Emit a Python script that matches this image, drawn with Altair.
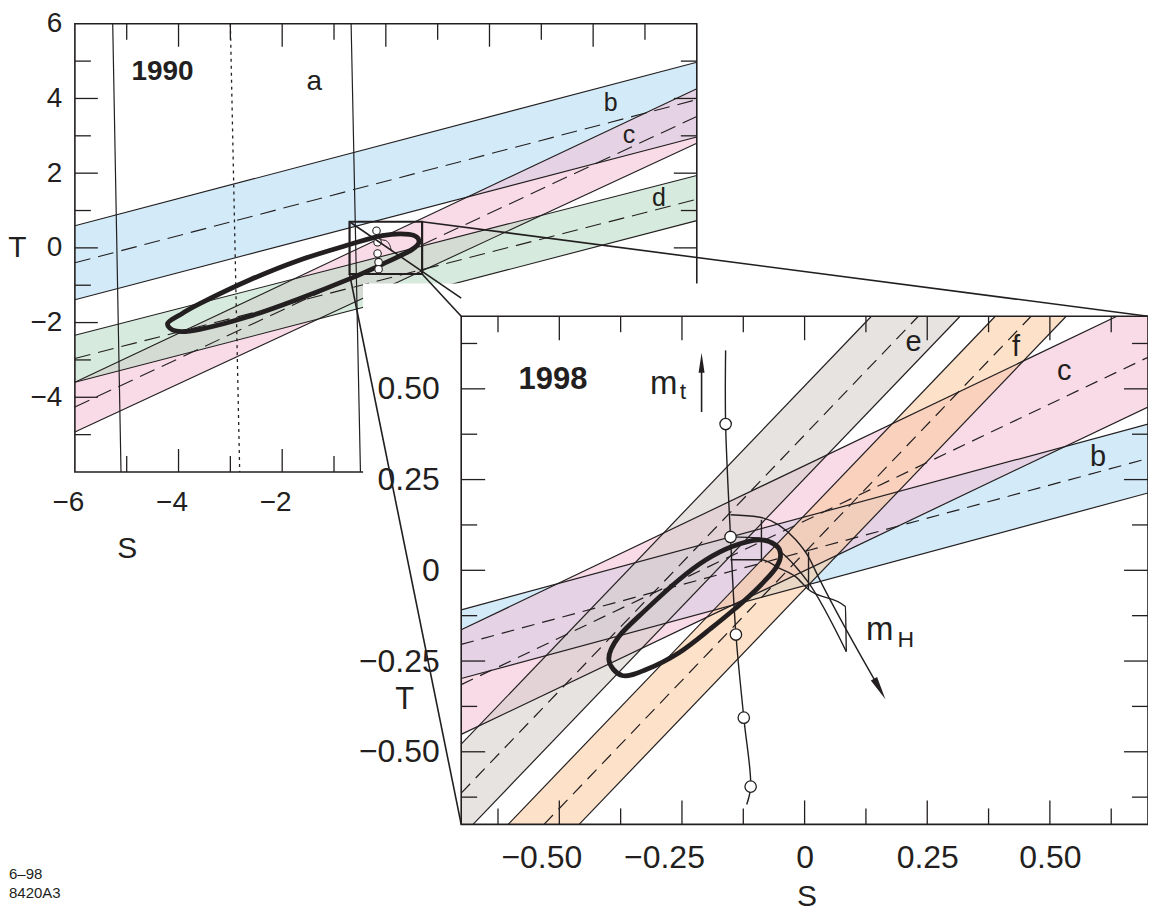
import altair as alt
import pandas as pd

FONT = "Liberation Sans"
INK = "#231f20"

# ---------------- values ----------------
# 1990 panel: every line is given by its T value at S = -6 (left) and S = +6 (right)
P1_BANDS = ["b", "c", "d"]
P1_UP_L = [0.59, -3.60, -2.34]
P1_UP_R = [4.97, 4.26, 1.94]
P1_MID_L = [-0.40, -4.26, -2.96]
P1_MID_R = [3.97, 3.52, 1.30]
P1_LO_L = [-1.39, -4.93, -3.60]
P1_LO_R = [2.97, 2.80, 0.73]
# constraint a: S where its three lines meet T = +6 and T = -6
A_TOP = [-5.27, -3.00, -0.67]
A_BOT = [-5.11, -2.82, -0.49]
A_KIND = ["edge", "centre", "edge"]
# 1990 fit contour
E1_S = [-4.21, -3.92, -3.59, -2.63, -1.67, -0.70, -0.07, 0.45, 0.64, 0.51, -0.07, -0.70, -1.67, -2.63, -3.59, -4.04]
E1_T = [-2.02, -1.75, -1.49, -0.86, -0.33, 0.09, 0.33, 0.36, 0.20, -0.04, -0.44, -0.83, -1.36, -1.83, -2.18, -2.23]
# m_t points and small m_H hook inside the zoom box of the 1990 panel
P1_MT_S = [-0.18, -0.16, -0.16, -0.14, -0.14]
P1_MT_T = [0.46, 0.15, -0.15, -0.38, -0.57]
P1_MH_S = [-0.13, -0.01, 0.07, 0.11]
P1_MH_T = [0.22, 0.20, 0.09, -0.09]
P1_TICKS = [-5, -4, -3, -2, -1, 0, 1, 2, 3, 4, 5]
P1_XLABELS = [-6, -4, -2]
P1_YLABELS = [-4, -2, 0, 2, 4, 6]
P1_TEXT = ["1990", "a", "b", "c", "d"]
P1_TEXT_S = [-4.31, -1.38, 4.34, 4.69, 5.27]
P1_TEXT_T = [4.71, 4.45, 3.89, 3.02, 1.33]

# 1998 panel: every line is given by its T value at S = -0.7 (left) and S = +0.7 (right)
P2_BANDS = ["b", "c", "e", "f"]
P2_UP_L = [-0.109, -0.164, -0.479, -0.835]
P2_UP_R = [0.403, 0.741, 1.495, 1.139]
P2_MID_L = [-0.204, -0.315, -0.614, -0.938]
P2_MID_R = [0.308, 0.587, 1.360, 1.036]
P2_LO_L = [-0.298, -0.452, -0.734, -1.039]
P2_LO_R = [0.213, 0.450, 1.240, 0.935]
E2_S = [-0.399, -0.379, -0.324, -0.256, -0.201, -0.149, -0.094, -0.059, -0.049, -0.057,
        -0.079, -0.114, -0.142, -0.189, -0.256, -0.324, -0.372]
E2_T = [-0.246, -0.183, -0.109, -0.026, 0.029, 0.065, 0.084, 0.070, 0.043, 0.010,
        -0.026, -0.073, -0.106, -0.158, -0.227, -0.274, -0.290]
MT_S = [-0.161, -0.161, -0.151, -0.140, -0.124, -0.110, -0.118]
MT_T = [0.606, 0.403, 0.092, -0.177, -0.406, -0.596, -0.645]
MT_MARKED = [1, 2, 3, 4, 5]
MT_ARROW_S = [-0.210]
MT_ARROW_T0 = [0.436]
MT_ARROW_T1 = [0.572]
MH1_S = [-0.151, -0.094, -0.053, -0.018, 0.008, 0.028, 0.155]
MH1_T = [0.153, 0.147, 0.125, 0.084, 0.037, -0.018, -0.331]
MH2_S = [-0.151, -0.094, -0.053, -0.018, 0.008, 0.085]
MH2_T = [0.092, 0.089, 0.056, 0.010, -0.034, -0.224]
MH3_S = [-0.151, -0.088, -0.053, -0.018, 0.008, 0.083, 0.085]
MH3_T = [0.029, 0.029, 0.007, -0.018, -0.053, -0.100, -0.224]
MH_STEP_S = [-0.088, 0.008]
MH_STEP_T0 = [0.139, 0.051]
MH_STEP_T1 = [0.023, -0.053]
MH_HEAD_S = [0.153]
MH_HEAD_T = [-0.327]
P2_TICKS = [-0.625, -0.5, -0.375, -0.25, -0.125, 0, 0.125, 0.25, 0.375, 0.5, 0.625]
P2_LABELS = [-0.5, -0.25, 0, 0.25, 0.5]
P2_TEXT = ["1998", "e", "f", "c", "b"]
P2_TEXT_S = [-0.513, 0.222, 0.431, 0.529, 0.598]
P2_TEXT_T = [0.523, 0.628, 0.615, 0.549, 0.312]
FOOTER = ["6–98", "8420A3"]

BAND_NAMES = ["b", "c", "d", "e", "f"]
BAND_COLORS = ["#afdbf2", "#f4bed3", "#b5dac1", "#d2ccc8", "#fbc89b"]
ARROW = "M0,-1L0.3,1L-0.3,1Z"

# ---------------- layout (pixels inside the plot area) ----------------
PAD_L, PAD_T, PAD_B, W, H = 67, 15, 89, 1075, 802
P1 = dict(s=(-6.0, 6.0), t=(-6.0, 6.0), x=(0, 623), y=(449, 0))
P2 = dict(s=(-0.7, 0.7), t=(-0.7, 0.7), x=(387, 1075), y=(802, 293))
ZOOM = (-0.7, 0.7)                      # extent of the 1998 panel, drawn as a box in 1990
COVER_S0, COVER_T1 = -0.9, 0.79         # white backing of the 1998 panel (its units)


def sx(p, field, axis=None):
    return alt.X(f"{field}:Q", axis=axis,
                 scale=alt.Scale(domain=list(p["s"]), range=list(p["x"]), nice=False, zero=False))


def sy(p, field, axis=None):
    return alt.Y(f"{field}:Q", axis=axis, stack=None,
                 scale=alt.Scale(domain=list(p["t"]), range=list(p["y"]), nice=False, zero=False))


def clip_seg(s1, t1, s2, t2, box):
    smin, smax, tmin, tmax = box
    ds, dt = s2 - s1, t2 - t1
    u0, u1 = 0.0, 1.0
    for pp, q in ((-ds, s1 - smin), (ds, smax - s1), (-dt, t1 - tmin), (dt, tmax - t1)):
        if pp == 0:
            if q < 0:
                return None
            continue
        r = q / pp
        if pp < 0:
            u0 = max(u0, r)
        else:
            u1 = min(u1, r)
    if u0 >= u1:
        return None
    return s1 + u0 * ds, t1 + u0 * dt, s1 + u1 * ds, t1 + u1 * dt


def band_tables(p, names, up_l, up_r, mid_l, mid_r, lo_l, lo_r):
    s0, s1 = p["s"]
    t0, t1 = p["t"]
    box = (s0, s1, t0, t1)
    area, edges, mids = [], [], []

    def at(ln, s):
        return ln[0] + (ln[1] - ln[0]) * (s - s0) / (s1 - s0)

    for k, name in enumerate(names):
        up, lo, mid = (up_l[k], up_r[k]), (lo_l[k], lo_r[k]), (mid_l[k], mid_r[k])
        cuts = {s0, s1}
        for ln in (up, lo):
            if ln[1] != ln[0]:
                for tb in (t0, t1):
                    s = s0 + (tb - ln[0]) * (s1 - s0) / (ln[1] - ln[0])
                    if s0 < s < s1:
                        cuts.add(s)
        for s in sorted(cuts):
            area.append({"band": name, "S": s,
                         "hi": min(max(at(up, s), t0), t1),
                         "lo": min(max(at(lo, s), t0), t1)})
        for tag, ln, rows in (("u", up, edges), ("l", lo, edges), ("m", mid, mids)):
            seg = clip_seg(s0, ln[0], s1, ln[1], box)
            if seg:
                rows.append({"id": name + tag, "i": 0, "S": seg[0], "T": seg[1]})
                rows.append({"id": name + tag, "i": 1, "S": seg[2], "T": seg[3]})
    return pd.DataFrame(area), pd.DataFrame(edges), pd.DataFrame(mids)


def fills(df, p):
    return alt.Chart(df).mark_area(opacity=0.55).encode(
        x=sx(p, "S"), y=sy(p, "hi"), y2=alt.Y2("lo"),
        color=alt.Color("band:N", legend=None, scale=alt.Scale(domain=BAND_NAMES, range=BAND_COLORS)))


def lines(df, p, width, dash=None, interp="linear"):
    kw = dict(color=INK, strokeWidth=width, interpolate=interp)
    if dash:
        kw["strokeDash"] = dash
    return alt.Chart(df).mark_line(**kw).encode(
        x=sx(p, "S"), y=sy(p, "T"), detail="id:N", order="i:Q")


def path_df(ss, ts, key="p"):
    return pd.DataFrame({"id": key, "i": list(range(len(ss))), "S": ss, "T": ts})


def box(p, s0, s1, t0, t1, axis_x=None, axis_y=None, **mk):
    df = pd.DataFrame({"S0": [s0], "S1": [s1], "T0": [t0], "T1": [t1]})
    return alt.Chart(df).mark_rect(**mk).encode(
        x=sx(p, "S0", axis_x), x2=alt.X2("S1"), y=sy(p, "T0", axis_y), y2=alt.Y2("T1"))


def texts(p, words, ss, ts, size, weight="normal"):
    df = pd.DataFrame({"txt": words, "S": ss, "T": ts})
    return alt.Chart(df).mark_text(font=FONT, fontSize=size, fontWeight=weight, color=INK,
                                   align="center", baseline="middle").encode(
        x=sx(p, "S"), y=sy(p, "T"), text="txt:N")


def tick_layers(p, vals, is_long, long_len, short_len):
    out = []
    s0, s1 = p["s"]
    t0, t1 = p["t"]
    for length, want in ((long_len, True), (short_len, False)):
        v = [x for x in vals if is_long(x) == want]
        n = len(v)
        for t_edge, off in ((t1, length / 2), (t0, -length / 2)):
            out.append(alt.Chart(pd.DataFrame({"S": v, "T": [t_edge] * n})).mark_tick(
                orient="vertical", size=length, thickness=1.3, color=INK, opacity=1, yOffset=off
            ).encode(x=sx(p, "S"), y=sy(p, "T")))
        for s_edge, off in ((s0, length / 2), (s1, -length / 2)):
            out.append(alt.Chart(pd.DataFrame({"S": [s_edge] * n, "T": v})).mark_tick(
                orient="horizontal", size=length, thickness=1.3, color=INK, opacity=1, xOffset=off
            ).encode(x=sx(p, "S"), y=sy(p, "T")))
    return out


def to_px(p, s, t):
    x = p["x"][0] + (s - p["s"][0]) / (p["s"][1] - p["s"][0]) * (p["x"][1] - p["x"][0])
    y = p["y"][0] + (t - p["t"][0]) / (p["t"][1] - p["t"][0]) * (p["y"][1] - p["y"][0])
    return x, y


def from_px(p, x, y):
    s = p["s"][0] + (x - p["x"][0]) / (p["x"][1] - p["x"][0]) * (p["s"][1] - p["s"][0])
    t = p["t"][0] + (y - p["y"][0]) / (p["y"][1] - p["y"][0]) * (p["t"][1] - p["t"][0])
    return s, t


AXIS_COMMON = dict(ticks=False, tickSize=0, domain=False, grid=False, labelFont=FONT, labelColor=INK,
                   labelFlush=False, labelOverlap=False, titleFont=FONT, titleColor=INK,
                   titleFontWeight="normal", titleAngle=0, titleAlign="center", titleBaseline="middle")
LBL2 = "datum.value == 0 ? '0' : format(datum.value, '.2f')"
NEG_SHIFT = {"condition": {"test": "datum.value < 0", "value": -18}, "value": 0}
AX1 = alt.Axis(orient="bottom", offset=-(H - P1["y"][0]), values=P1_XLABELS, labelFontSize=28,
               labelPadding=17, labelOffset=-7, title="S", titleFontSize=30, titleX=52, titleY=77,
               zindex=0, **AXIS_COMMON)
AY1 = alt.Axis(orient="left", values=P1_YLABELS, labelFontSize=28, labelPadding=13,
               title="T", titleFontSize=30, titleX=-58, titleY=224, zindex=0, **AXIS_COMMON)
AX2 = alt.Axis(orient="bottom", offset=0, values=P2_LABELS, labelExpr=LBL2, labelFontSize=32,
               labelPadding=18, labelOffset=NEG_SHIFT, title="S", titleFontSize=30, titleX=733,
               titleY=72, zindex=1, **AXIS_COMMON)
AY2 = alt.Axis(orient="left", offset=-P2["x"][0], values=P2_LABELS, labelExpr=LBL2, labelFontSize=32,
               labelPadding=22, title="T", titleFontSize=31, titleX=-57, titleY=677, zindex=1,
               **AXIS_COMMON)

layers = []

# ---------------- 1990 panel ----------------
a1, e1, m1 = band_tables(P1, P1_BANDS, P1_UP_L, P1_UP_R, P1_MID_L, P1_MID_R, P1_LO_L, P1_LO_R)
layers += [fills(a1, P1), lines(e1, P1, 1.1), lines(m1, P1, 1.1, dash=[16, 8])]
a_rows_solid, a_rows_dot = [], []
for k in range(len(A_TOP)):
    rows = a_rows_dot if A_KIND[k] == "centre" else a_rows_solid
    rows.append({"id": f"a{k}", "i": 0, "S": A_TOP[k], "T": P1["t"][1]})
    rows.append({"id": f"a{k}", "i": 1, "S": A_BOT[k], "T": P1["t"][0]})
layers += [lines(pd.DataFrame(a_rows_solid), P1, 1.2), lines(pd.DataFrame(a_rows_dot), P1, 1.3, dash=[3, 4])]
layers.append(lines(path_df(E1_S, E1_T), P1, 4.8, interp="cardinal-closed"))
layers.append(lines(path_df(P1_MH_S, P1_MH_T), P1, 1.0, interp="monotone"))
layers.append(alt.Chart(pd.DataFrame({"S": P1_MT_S, "T": P1_MT_T})).mark_circle(
    fill="white", stroke=INK, strokeWidth=1.1, size=56, opacity=1).encode(x=sx(P1, "S"), y=sy(P1, "T")))
layers.append(box(P1, ZOOM[0], ZOOM[1], ZOOM[0], ZOOM[1], fillOpacity=0, stroke=INK, strokeWidth=2.2))
layers.append(box(P1, P1["s"][0], P1["s"][1], P1["t"][0], P1["t"][1], axis_x=AX1, axis_y=AY1,
                  fillOpacity=0, stroke=INK, strokeWidth=1.6))
layers += tick_layers(P1, P1_TICKS, lambda v: v % 2 == 0, 23, 16)
layers.append(texts(P1, P1_TEXT[:1], P1_TEXT_S[:1], P1_TEXT_T[:1], 28, "bold"))
layers.append(texts(P1, P1_TEXT[1:2], P1_TEXT_S[1:2], P1_TEXT_T[1:2], 28))
layers.append(texts(P1, P1_TEXT[2:], P1_TEXT_S[2:], P1_TEXT_T[2:], 25))

# ---------------- white backing of the 1998 panel ----------------
layers.append(box(P2, COVER_S0, P2["s"][1], P2["t"][0], COVER_T1, fill="white", stroke=None, opacity=1))

# ---------------- 1998 panel ----------------
a2, e2, m2 = band_tables(P2, P2_BANDS, P2_UP_L, P2_UP_R, P2_MID_L, P2_MID_R, P2_LO_L, P2_LO_R)
layers += [fills(a2, P2), lines(e2, P2, 1.2), lines(m2, P2, 1.2, dash=[13, 8])]
layers.append(lines(path_df(E2_S, E2_T), P2, 4.8, interp="cardinal-closed"))
layers.append(lines(path_df(MT_S, MT_T), P2, 1.4, interp="catmull-rom"))
mh = pd.concat([path_df(MH1_S, MH1_T, "h1"), path_df(MH2_S, MH2_T, "h2"), path_df(MH3_S, MH3_T, "h3")])
layers.append(lines(mh, P2, 1.4, interp="monotone"))
layers.append(alt.Chart(pd.DataFrame({"S": MH_STEP_S, "T0": MH_STEP_T0, "T1": MH_STEP_T1})).mark_rule(
    color=INK, strokeWidth=1.4).encode(x=sx(P2, "S"), y=sy(P2, "T0"), y2=alt.Y2("T1")))
layers.append(alt.Chart(pd.DataFrame({"S": MT_ARROW_S, "T0": MT_ARROW_T0, "T1": MT_ARROW_T1})).mark_rule(
    color=INK, strokeWidth=1.6).encode(x=sx(P2, "S"), y=sy(P2, "T0"), y2=alt.Y2("T1")))
layers.append(alt.Chart(pd.DataFrame({"S": MT_ARROW_S, "T": MT_ARROW_T1})).mark_point(
    shape=ARROW, filled=True, color=INK, opacity=1, size=400, angle=0).encode(x=sx(P2, "S"), y=sy(P2, "T")))
layers.append(alt.Chart(pd.DataFrame({"S": MH_HEAD_S, "T": MH_HEAD_T})).mark_point(
    shape=ARROW, filled=True, color=INK, opacity=1, size=560, angle=151).encode(x=sx(P2, "S"), y=sy(P2, "T")))
layers.append(alt.Chart(pd.DataFrame({"S": [MT_S[i] for i in MT_MARKED], "T": [MT_T[i] for i in MT_MARKED]})).mark_circle(
    fill="white", stroke=INK, strokeWidth=1.3, size=130, opacity=1).encode(x=sx(P2, "S"), y=sy(P2, "T")))
layers.append(texts(P2, P2_TEXT[:1], P2_TEXT_S[:1], P2_TEXT_T[:1], 31, "bold"))
layers.append(texts(P2, P2_TEXT[1:], P2_TEXT_S[1:], P2_TEXT_T[1:], 29))
layers.append(texts(P2, ["m", "m"], [-0.287, 0.153], [0.513, -0.164], 33))
layers.append(texts(P2, ["t", "H"], [-0.248, 0.206], [0.491, -0.191], 23))
layers.append(box(P2, P2["s"][0], P2["s"][1], P2["t"][0], P2["t"][1], axis_x=AX2, axis_y=AY2,
                  fillOpacity=0, stroke=INK, strokeWidth=1.6))
layers += tick_layers(P2, P2_TICKS, lambda v: abs(v / 0.25 - round(v / 0.25)) < 1e-9, 24, 16)

# ---------------- zoom connectors (drawn in 1990 units) ----------------
CONNECT_FROM = [(ZOOM[0], ZOOM[1]), (ZOOM[1], ZOOM[0]), (ZOOM[1], ZOOM[1]), (ZOOM[0], ZOOM[0])]
CONNECT_TO = [(-0.70, 0.75), (-0.70, 0.70), (0.70, 0.70), (-0.70, -0.70)]
crow = []
for k, (a, b) in enumerate(zip(CONNECT_FROM, CONNECT_TO)):
    s_b, t_b = from_px(P1, *to_px(P2, *b))
    crow += [{"id": f"z{k}", "i": 0, "S": a[0], "T": a[1]}, {"id": f"z{k}", "i": 1, "S": s_b, "T": t_b}]
layers.append(lines(pd.DataFrame(crow), P1, 1.6))

# ---------------- drawing code note, lower left ----------------
layers.append(alt.Chart(pd.DataFrame({"txt": ["\n".join(FOOTER)]})).mark_text(
    font=FONT, fontSize=15, color=INK, align="left", baseline="top", lineBreak="\n", lineHeight=19
).encode(x=alt.value(-PAD_L + 1), y=alt.value(H + 43), text="txt:N"))

chart = alt.layer(*layers).resolve_scale(x="independent", y="independent").properties(
    width=W, height=H,
    autosize=alt.AutoSizeParams(type="none"),
    padding={"left": PAD_L, "top": PAD_T, "right": 0, "bottom": PAD_B},
    background="white",
).configure_view(stroke=None)

chart.save("out.html", embed_options={"renderer": "svg", "actions": False})
